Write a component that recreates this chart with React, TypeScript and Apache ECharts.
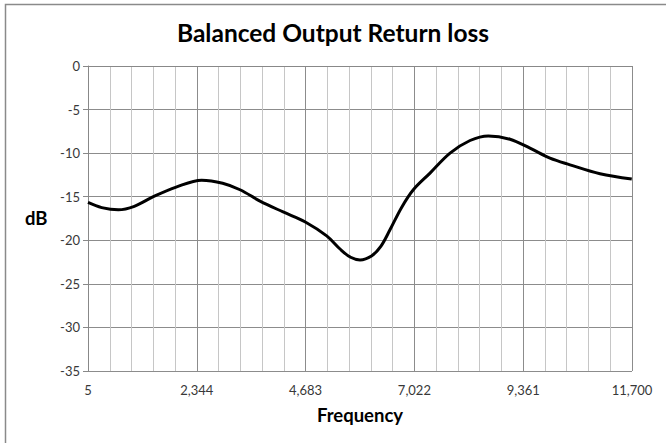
import React, { useEffect, useRef } from "react";
import * as echarts from "echarts";

const TITLE = "Balanced Output Return loss";
const X_NAME = "Frequency";
const Y_NAME = "dB";
const X_MIN = 5;
const X_MAX = 11700;
const X_STEP = 2339;
const Y_TICKS = [0, -5, -10, -15, -20, -25, -30, -35];

const frequency = [5, 300, 656, 1000, 1409, 1900, 2449, 2900, 3273, 3703, 4200, 4677, 5136, 5423, 5650, 5853, 6100, 6300, 6497, 6750, 6999, 7358, 7788, 8218, 8612, 9077, 9507, 9937, 10367, 11012, 11695];
const returnLoss = [-15.66, -16.25, -16.5, -16.1, -15.0, -13.9, -13.1, -13.45, -14.2, -15.5, -16.75, -17.9, -19.5, -21.0, -21.95, -22.25, -21.8, -20.7, -18.8, -16.2, -14.2, -12.29, -10.0, -8.55, -8.02, -8.4, -9.43, -10.58, -11.34, -12.37, -12.98];

export default function App() {
  const ref = useRef<HTMLDivElement>(null);
  useEffect(() => {
    document.body.style.margin = "0";
    const chart = echarts.init(ref.current!, undefined, { renderer: "svg" });
    const font = "Lato, 'Open Sans', sans-serif";
    const data = frequency.map((f, i) => [f - X_MIN, returnLoss[i]]);
    chart.setOption({
      animation: false,
      backgroundColor: "#ffffff",
      title: {
        text: TITLE,
        left: "center",
        top: 15,
        textStyle: { fontFamily: font, fontSize: 24.5, fontWeight: "bold", color: "#000" },
      },
      graphic: [
        {
          type: "rect",
          shape: { x: 5.5, y: 4.5, width: 700, height: 500 },
          style: { fill: "none", stroke: "#8a8a8a", lineWidth: 1.5 },
          silent: true,
        },
        {
          type: "text",
          left: 25,
          top: 208,
          style: { text: Y_NAME, fontFamily: font, fontSize: 18.5, fontWeight: "bold", fill: "#000" },
        },
      ],
      grid: { left: 88, right: 34, top: 66, bottom: 72, containLabel: false },
      xAxis: {
        type: "value",
        min: 0,
        max: X_MAX - X_MIN,
        interval: X_STEP,
        name: X_NAME,
        nameLocation: "middle",
        nameGap: 34,
        nameTextStyle: { fontFamily: font, fontSize: 18.5, fontWeight: "bold", color: "#000" },
        axisLine: { show: true, lineStyle: { color: "#888", width: 1 } },
        axisTick: { show: false },
        axisLabel: {
          fontFamily: font,
          fontSize: 13,
          color: "#383838",
          margin: 12,
          formatter: (v: number) => (v + X_MIN).toLocaleString("en-US"),
        },
        splitLine: { show: true, lineStyle: { color: "#8c8c8c", width: 1 } },
        minorTick: { show: false, splitNumber: 5 },
        minorSplitLine: { show: true, lineStyle: { color: "#c6c6c6", width: 1 } },
      },
      yAxis: {
        type: "value",
        min: Y_TICKS[Y_TICKS.length - 1],
        max: Y_TICKS[0],
        interval: 5,
        axisLine: { show: true, lineStyle: { color: "#888", width: 1 } },
        axisTick: { show: true, length: 5, lineStyle: { color: "#888" } },
        axisLabel: { fontFamily: font, fontSize: 13, color: "#383838", margin: 8 },
        splitLine: { show: true, lineStyle: { color: "#8c8c8c", width: 1 } },
      },
      series: [
        {
          type: "line",
          data,
          smooth: 0.35,
          showSymbol: false,
          lineStyle: { color: "#000", width: 3 },
        },
      ],
    });
    return () => chart.dispose();
  }, []);
  return <div ref={ref} style={{ width: 666, height: 443, position: "absolute", left: 0, top: 0 }} />;
}
